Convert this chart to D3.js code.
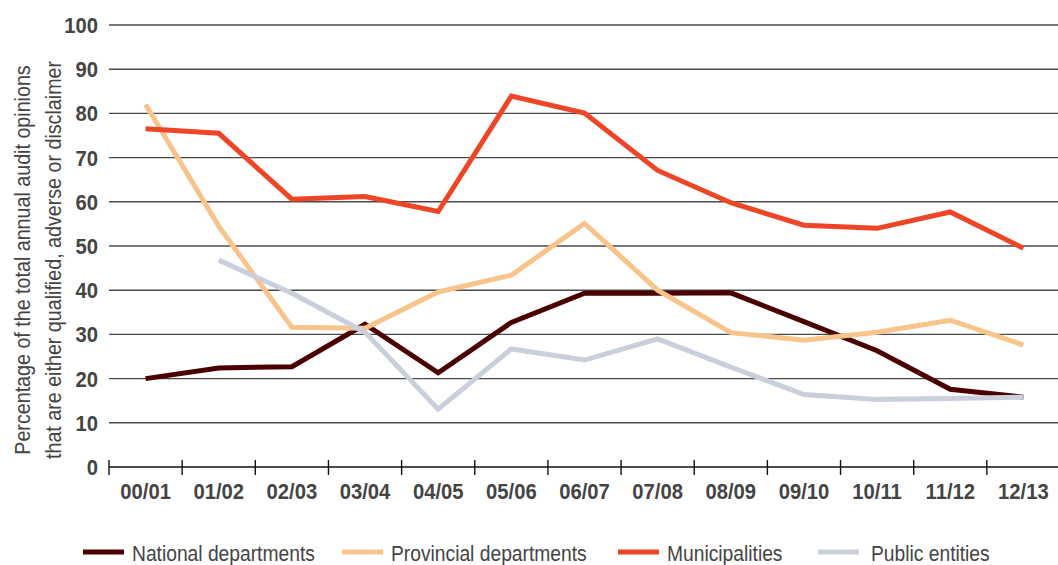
<!DOCTYPE html>
<html>
<head>
<meta charset="utf-8">
<script src="https://cdn.jsdelivr.net/npm/d3@7"></script>
<style>
  html, body { margin: 0; padding: 0; background: #fff; }
  svg { display: block; }
</style>
</head>
<body>
<svg id="chart" width="1058" height="565"></svg>
<script>
const categories = ["00/01","01/02","02/03","03/04","04/05","05/06","06/07","07/08","08/09","09/10","10/11","11/12","12/13"];
const yTicks = [0,10,20,30,40,50,60,70,80,90,100];
const national      = [20.0, 22.4, 22.7, 32.3, 21.3, 32.7, 39.3, 39.3, 39.4, 32.9, 26.3, 17.6, 15.8];
const provincial    = [82.0, 54.5, 31.6, 31.4, 39.6, 43.4, 55.1, 40.0, 30.4, 28.7, 30.5, 33.2, 27.6];
const municipalities= [76.5, 75.5, 60.6, 61.2, 57.8, 83.9, 80.1, 67.1, 59.8, 54.7, 54.0, 57.7, 49.5];
const publicEntities= [null, 46.8, 39.3, 30.5, 13.1, 26.7, 24.2, 29.0, 22.6, 16.4, 15.3, 15.5, 15.8];
const seriesNames = ["National departments","Provincial departments","Municipalities","Public entities"];
const seriesColors = ["#4b0000","#f8c48b","#ef4527","#cacfdc"];
const seriesData = [national, provincial, municipalities, publicEntities];

(function () {
const svg = d3.select("#chart");
const W = 1058;
const mLeft = 109, mRight = 1060, mTop = 25, mBottom = 467;

const x = d3.scaleBand().domain(categories).range([mLeft, mRight]).padding(0);
const y = d3.scaleLinear().domain([0, 100]).range([mBottom, mTop]);

const font = "'Liberation Sans','Arial',sans-serif";
const tickScale = 0.92, textScale = 0.875;

// gridlines
svg.append("g").selectAll("line")
  .data(yTicks.filter(d => d > 0))
  .join("line")
  .attr("x1", mLeft).attr("x2", W)
  .attr("y1", d => y(d)).attr("y2", d => y(d))
  .attr("stroke", "#4a4a4a").attr("stroke-width", 1.4);

// x axis
const xAxis = svg.append("g");
xAxis.append("line")
  .attr("x1", mLeft).attr("x2", W)
  .attr("y1", y(0)).attr("y2", y(0))
  .attr("stroke", "#111").attr("stroke-width", 1.4);
xAxis.selectAll("line.tick")
  .data(categories)
  .join("line").attr("class", "tick")
  .attr("x1", d => x(d)).attr("x2", d => x(d))
  .attr("y1", y(0) - 7).attr("y2", y(0) + 8)
  .attr("stroke", "#111").attr("stroke-width", 1.4);
xAxis.selectAll("text")
  .data(categories)
  .join("text")
  .attr("transform", d => `translate(${x(d) + x.bandwidth() / 2},499) scale(${tickScale},1)`)
  .attr("text-anchor", "middle")
  .attr("font-family", font).attr("font-weight", "bold")
  .attr("font-size", 22).attr("fill", "#444")
  .text(d => d);

// y tick labels
svg.append("g").selectAll("text")
  .data(yTicks)
  .join("text")
  .attr("transform", d => `translate(98,${y(d)}) scale(${tickScale},1)`)
  .attr("dy", "0.36em")
  .attr("text-anchor", "end")
  .attr("font-family", font).attr("font-weight", "bold")
  .attr("font-size", 22).attr("fill", "#444")
  .text(d => d);

// y title
const titleLines = ["Percentage of the total annual audit opinions", "that are either qualified, adverse or disclaimer"];
svg.append("g").selectAll("text")
  .data(titleLines)
  .join("text")
  .attr("transform", (d, i) => `translate(${i === 0 ? 30 : 61},260) rotate(-90) scale(${textScale},1)`)
  .attr("text-anchor", "middle")
  .attr("font-family", font)
  .attr("font-size", 22.5).attr("fill", "#444")
  .text(d => d);

// lines
const line = d3.line()
  .defined(d => d != null)
  .x((d, i) => x(categories[i]) + x.bandwidth() / 2)
  .y(d => y(d));

svg.append("g").selectAll("path")
  .data(seriesData)
  .join("path")
  .attr("d", d => line(d))
  .attr("fill", "none")
  .attr("stroke", (d, i) => seriesColors[i])
  .attr("stroke-width", 5)
  .attr("stroke-linejoin", "miter")
  .attr("stroke-linecap", "butt");

// legend
const legendX = [83, 342, 618, 818];
const lg = svg.append("g");
seriesNames.forEach((name, i) => {
  lg.append("line")
    .attr("x1", legendX[i]).attr("x2", legendX[i] + 41)
    .attr("y1", 552).attr("y2", 552)
    .attr("stroke", seriesColors[i]).attr("stroke-width", 5);
  lg.append("text")
    .attr("transform", `translate(${legendX[i] + 49 + (i === 3 ? 4 : 0)},561) scale(${textScale},1)`)
    .attr("font-family", font)
    .attr("font-size", 22).attr("fill", "#444")
    .text(name);
});
})();
</script>
</body>
</html>
